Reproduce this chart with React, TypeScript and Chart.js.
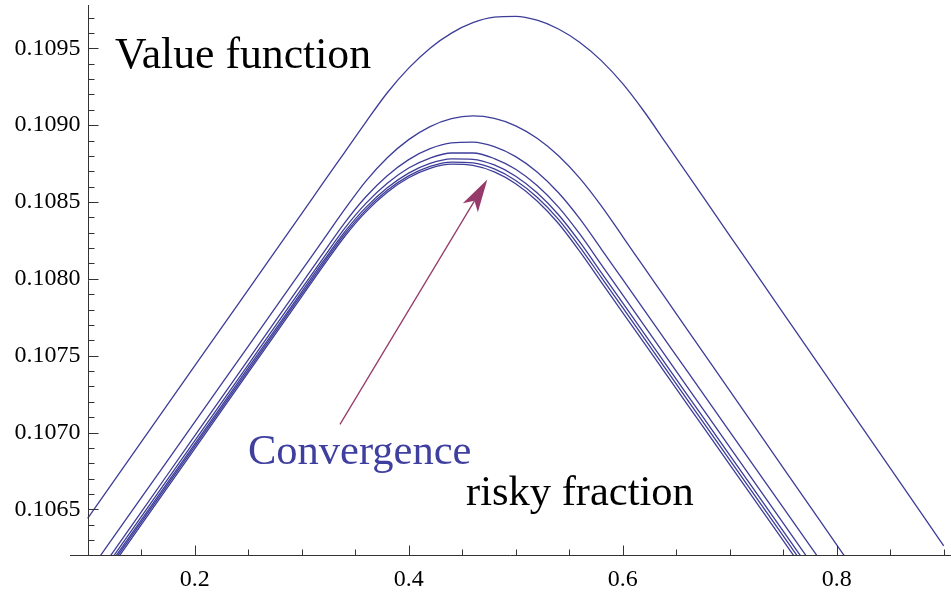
import React, { useEffect, useRef } from "react";
import { Chart, registerables } from "chart.js";

Chart.register(...registerables);

// risky fraction sample positions
const X = [0.10, 0.15, 0.20, 0.25, 0.30, 0.32, 0.34, 0.36, 0.38, 0.40, 0.42, 0.44, 0.46, 0.48, 0.50, 0.52, 0.54, 0.56, 0.58, 0.60, 0.62, 0.64, 0.66, 0.70, 0.75, 0.80, 0.85, 0.90];

// value function iterates
const C1 = [0.106441, 0.106937, 0.107433, 0.107929, 0.108425, 0.108624, 0.108822, 0.109020, 0.109211, 0.109371, 0.109501, 0.109599, 0.109667, 0.109703, 0.109708, 0.109683, 0.109626, 0.109538, 0.109420, 0.109270, 0.109089, 0.108888, 0.108686, 0.108282, 0.107777, 0.107272, 0.106768, 0.106263];
const C2 = [0.106081, 0.106574, 0.107068, 0.107561, 0.108055, 0.108252, 0.108450, 0.108636, 0.108788, 0.108906, 0.108991, 0.109043, 0.109060, 0.109044, 0.108996, 0.108915, 0.108801, 0.108654, 0.108475, 0.108275, 0.108074, 0.107874, 0.107673, 0.107272, 0.106770, 0.106269, 0.105768, 0.105266];
const C3 = [0.105987, 0.106482, 0.106978, 0.107473, 0.107969, 0.108167, 0.108363, 0.108534, 0.108671, 0.108776, 0.108847, 0.108885, 0.108890, 0.108860, 0.108795, 0.108695, 0.108560, 0.108390, 0.108194, 0.107996, 0.107798, 0.107600, 0.107402, 0.107006, 0.106511, 0.106016, 0.105521, 0.105026];
const C4 = [0.105956, 0.106451, 0.106946, 0.107441, 0.107936, 0.108134, 0.108327, 0.108491, 0.108622, 0.108721, 0.108786, 0.108819, 0.108819, 0.108783, 0.108713, 0.108607, 0.108467, 0.108291, 0.108093, 0.107895, 0.107697, 0.107499, 0.107301, 0.106905, 0.106410, 0.105915, 0.105420, 0.104925];
const C5 = [0.105935, 0.106430, 0.106925, 0.107420, 0.107915, 0.108113, 0.108304, 0.108465, 0.108593, 0.108688, 0.108751, 0.108781, 0.108778, 0.108741, 0.108668, 0.108560, 0.108417, 0.108239, 0.108041, 0.107843, 0.107645, 0.107447, 0.107249, 0.106853, 0.106358, 0.105863, 0.105368, 0.104873];
const C6 = [0.105920, 0.106415, 0.106910, 0.107405, 0.107900, 0.108098, 0.108289, 0.108449, 0.108576, 0.108670, 0.108732, 0.108760, 0.108755, 0.108715, 0.108640, 0.108531, 0.108387, 0.108207, 0.108010, 0.107812, 0.107614, 0.107416, 0.107218, 0.106822, 0.106327, 0.105832, 0.105337, 0.104842];
const C7 = [0.105904, 0.106399, 0.106894, 0.107389, 0.107884, 0.108082, 0.108274, 0.108436, 0.108564, 0.108658, 0.108719, 0.108746, 0.108738, 0.108696, 0.108619, 0.108507, 0.108360, 0.108177, 0.107979, 0.107781, 0.107583, 0.107385, 0.107187, 0.106791, 0.106296, 0.105801, 0.105306, 0.104811];
const SERIES = [C1, C2, C3, C4, C5, C6, C7];

// axes
const X_MIN = 0.0835;
const X_MAX = 0.9068;
const Y_MIN = 0.106203;
const Y_MAX = 0.109782;
const AXIS_X_AT = 0.1; // y axis drawn at x = 0.1
const X_TICKS = [0.2, 0.4, 0.6, 0.8];
const X_TICK_LABELS = ["0.2", "0.4", "0.6", "0.8"];
const X_MINOR = [0.15, 0.25, 0.3, 0.35, 0.45, 0.5, 0.55, 0.65, 0.7, 0.75, 0.85, 0.9];
const Y_TICKS = [0.1065, 0.107, 0.1075, 0.108, 0.1085, 0.109, 0.1095];
const Y_TICK_LABELS = ["0.1065", "0.1070", "0.1075", "0.1080", "0.1085", "0.1090", "0.1095"];
const Y_MINOR = [0.1063, 0.1064, 0.1066, 0.1067, 0.1068, 0.1069, 0.1071, 0.1072, 0.1073, 0.1074, 0.1076, 0.1077, 0.1078, 0.1079, 0.1081, 0.1082, 0.1083, 0.1084, 0.1086, 0.1087, 0.1088, 0.1089, 0.1091, 0.1092, 0.1093, 0.1094, 0.1096, 0.1097];

// annotation arrow (data coordinates)
const ARROW_FROM = [0.3358, 0.107053];
const ARROW_TO = [0.4735, 0.108647];

const TITLE_TEXT = "Value function";
const CONV_TEXT = "Convergence";
const XLABEL_TEXT = "risky fraction";

const LINE_COLOR = "#3d3d99";
const ARROW_COLOR = "#963a6a";
const AXIS_COLOR = "#333333";
const FONT = '"Liberation Serif", "Times New Roman", Times, serif';

const decorPlugin = {
  id: "decor",
  afterDatasetsDraw(chart: any) {
    const { ctx, scales, chartArea } = chart;
    const xs = scales.x;
    const ys = scales.y;
    ctx.save();

    // arrow
    const tx = xs.getPixelForValue(ARROW_FROM[0]);
    const ty = ys.getPixelForValue(ARROW_FROM[1]);
    const hx = xs.getPixelForValue(ARROW_TO[0]);
    const hy = ys.getPixelForValue(ARROW_TO[1]);
    const dx = hx - tx;
    const dy = hy - ty;
    const len = Math.sqrt(dx * dx + dy * dy);
    const ux = dx / len;
    const uy = dy / len;
    const nx = -uy;
    const ny = ux;
    const headLen = 33;
    const halfW = 8.8;
    const notch = 25;
    ctx.strokeStyle = ARROW_COLOR;
    ctx.fillStyle = ARROW_COLOR;
    ctx.lineWidth = 1.3;
    ctx.beginPath();
    ctx.moveTo(tx, ty);
    ctx.lineTo(hx - ux * notch, hy - uy * notch);
    ctx.stroke();
    ctx.beginPath();
    ctx.moveTo(hx, hy);
    ctx.lineTo(hx - ux * headLen + nx * halfW, hy - uy * headLen + ny * halfW);
    ctx.lineTo(hx - ux * notch, hy - uy * notch);
    ctx.lineTo(hx - ux * headLen - nx * halfW, hy - uy * headLen - ny * halfW);
    ctx.closePath();
    ctx.fill();

    // texts
    ctx.textAlign = "left";
    ctx.textBaseline = "alphabetic";
    ctx.fillStyle = "#000000";
    ctx.font = `43.7px ${FONT}`;
    ctx.fillText(TITLE_TEXT, 115, 68);
    ctx.font = `42.5px ${FONT}`;
    ctx.fillText(XLABEL_TEXT, 466, 505);
    ctx.fillStyle = "#3f3f9f";
    ctx.fillText(CONV_TEXT, 248, 464);

    // axes
    const axisY = Math.round(ys.getPixelForValue(Y_MIN)) + 0.5;
    const axisX = Math.round(xs.getPixelForValue(AXIS_X_AT)) + 0.5;
    ctx.strokeStyle = AXIS_COLOR;
    ctx.lineWidth = 1;
    ctx.beginPath();
    ctx.moveTo(chartArea.left, axisY);
    ctx.lineTo(chartArea.right, axisY);
    ctx.moveTo(axisX, chartArea.top);
    ctx.lineTo(axisX, axisY);
    // x ticks (pointing up)
    X_TICKS.forEach((v) => {
      const p = Math.round(xs.getPixelForValue(v)) + 0.5;
      ctx.moveTo(p, axisY);
      ctx.lineTo(p, axisY - 10);
    });
    X_MINOR.forEach((v) => {
      const p = Math.round(xs.getPixelForValue(v)) + 0.5;
      ctx.moveTo(p, axisY);
      ctx.lineTo(p, axisY - 6);
    });
    // y ticks (pointing right)
    Y_TICKS.forEach((v) => {
      const p = Math.round(ys.getPixelForValue(v)) + 0.5;
      ctx.moveTo(axisX, p);
      ctx.lineTo(axisX + 10, p);
    });
    Y_MINOR.forEach((v) => {
      const p = Math.round(ys.getPixelForValue(v)) + 0.5;
      ctx.moveTo(axisX, p);
      ctx.lineTo(axisX + 6, p);
    });
    ctx.stroke();

    // tick labels
    ctx.fillStyle = "#000000";
    ctx.font = `24px ${FONT}`;
    ctx.textAlign = "right";
    ctx.textBaseline = "middle";
    Y_TICKS.forEach((v, i) => {
      ctx.fillText(Y_TICK_LABELS[i], axisX - 8, ys.getPixelForValue(v));
    });
    ctx.textAlign = "center";
    ctx.textBaseline = "alphabetic";
    X_TICKS.forEach((v, i) => {
      ctx.fillText(X_TICK_LABELS[i], xs.getPixelForValue(v), axisY + 30);
    });

    ctx.restore();
  },
};

export default function App() {
  const canvasRef = useRef<HTMLCanvasElement | null>(null);

  useEffect(() => {
    document.body.style.margin = "0";
    const canvas = canvasRef.current;
    if (!canvas) return;
    const chart = new Chart(canvas, {
      type: "line",
      data: {
        datasets: SERIES.map((s, k) => ({
          label: `iterate ${k + 1}`,
          data: X.map((x, i) => ({ x, y: s[i] })),
          borderColor: LINE_COLOR,
          borderWidth: 1.3,
          pointRadius: 0,
          fill: false,
          cubicInterpolationMode: "monotone" as const,
        })),
      },
      options: {
        animation: false,
        responsive: false,
        devicePixelRatio: 1,
        layout: { padding: { left: 70, right: 0, top: 5, bottom: 37 } },
        plugins: {
          legend: { display: false },
          tooltip: { enabled: false },
          title: { display: false },
        },
        scales: {
          x: { type: "linear", display: false, min: X_MIN, max: X_MAX },
          y: { type: "linear", display: false, min: Y_MIN, max: Y_MAX },
        },
      },
      plugins: [decorPlugin],
    });
    return () => chart.destroy();
  }, []);

  return (
    <div style={{ width: 951, height: 592, background: "#ffffff" }}>
      <canvas ref={canvasRef} width={951} height={592} style={{ display: "block" }} />
    </div>
  );
}
